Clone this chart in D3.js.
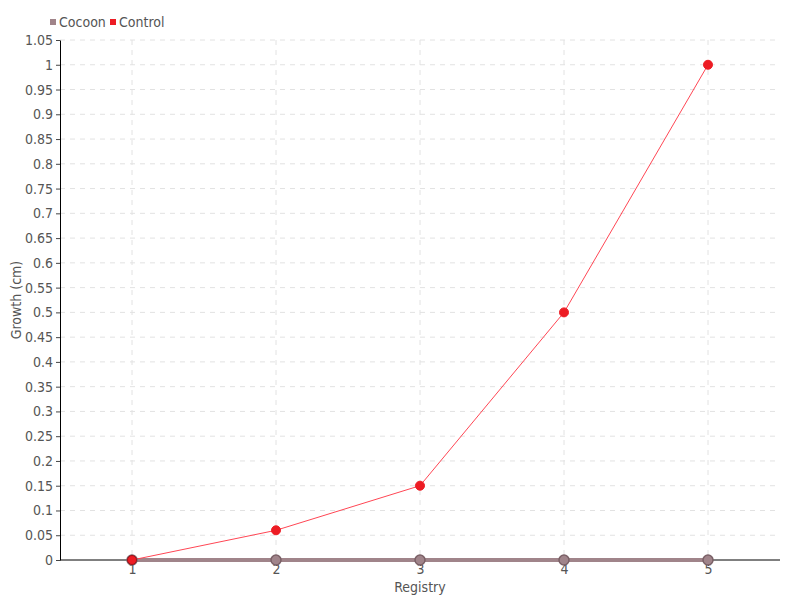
<!doctype html>
<html>
	<head>
		<meta charset="UTF-8">
		<title>Growth</title>
		<script src="https://d3js.org/d3.v7.min.js"></script>
		<style>
			body { margin: 0; background: #ffffff; }
			text { font-family: "Liberation Sans Narrow", "DejaVu Sans Condensed", "DejaVu Sans", sans-serif; }
		</style>
	</head>
	<body>
		<script>

// -------------------------------------- data

		var registry = [1, 2, 3, 4, 5];
		var cocoon = [0, 0, 0, 0, 0];
		var control = [0, 0.06, 0.15, 0.5, 1];
		var yTicks = d3.range(0, 22).map(i => +(i * 0.05).toFixed(2));

// -------------------------------------- colors

		var cocoon_col = "#a0848a";
		var cocoon_dark = "#7a6066";
		var control_col = "#ed1c24";
		var control_line = "#ff4654";
		var grid_col = "#e2e2e2";
		var text_col = "#555555";

// -------------------------------------- svg

		var width = 800, height = 600;
		var margin = { top: 40, right: 20, bottom: 40, left: 60 };

		var svg = d3.select("body").append("svg")
			.attr("width", width)
			.attr("height", height);

		var x = d3.scalePoint()
			.domain(registry)
			.range([margin.left, width - margin.right])
			.padding(0.5);

		var y = d3.scaleLinear()
			.domain([0, 1.05])
			.range([height - margin.bottom, margin.top]);

		// grid
		svg.append("g").selectAll("line.hgrid")
			.data(yTicks.slice(1))
			.enter().append("line")
			.attr("x1", margin.left).attr("x2", width - margin.right)
			.attr("y1", d => y(d)).attr("y2", d => y(d))
			.style("stroke", grid_col)
			.style("stroke-dasharray", "5,5");

		svg.append("g").selectAll("line.vgrid")
			.data(registry)
			.enter().append("line")
			.attr("x1", d => x(d)).attr("x2", d => x(d))
			.attr("y1", margin.top).attr("y2", height - margin.bottom)
			.style("stroke", grid_col)
			.style("stroke-dasharray", "5,5");

		// axes
		var yAxis = svg.append("g")
			.attr("transform", "translate(" + margin.left + ",0)")
			.call(d3.axisLeft(y).tickValues(yTicks).tickFormat(d => String(d)).tickSize(4).tickSizeOuter(0));

		var xAxis = svg.append("g")
			.attr("transform", "translate(0," + (height - margin.bottom) + ")")
			.call(d3.axisBottom(x).tickSize(6).tickSizeOuter(0));

		xAxis.select(".domain").attr("d", "M" + margin.left + ",0H" + (width - margin.right)).style("stroke", "#000");
		yAxis.select(".domain").style("stroke", "#000");

		[xAxis, yAxis].forEach(function(a) {
			a.selectAll(".tick line").style("stroke", "#444");
			a.selectAll(".tick text")
				.style("fill", text_col)
				.style("font-size", "14px")
				.style("font-family", null);
		});
		xAxis.selectAll(".tick text").attr("y", 4).attr("dy", "0.71em");

		// axis titles
		svg.append("text")
			.text("Registry")
			.attr("x", (margin.left + width - margin.right) / 2)
			.attr("y", 592)
			.attr("text-anchor", "middle")
			.style("fill", text_col)
			.style("font-size", "14px");

		svg.append("text")
			.text("Growth (cm)")
			.attr("transform", "translate(21," + 300 + ") rotate(-90)")
			.attr("text-anchor", "middle")
			.style("fill", text_col)
			.style("font-size", "14px");

// -------------------------------------- lines

		var line = d3.line()
			.x((d, i) => x(registry[i]))
			.y(d => y(d));

		svg.append("path")
			.datum(cocoon)
			.attr("d", line)
			.style("fill", "none")
			.style("stroke", cocoon_col)
			.style("stroke-width", 4);

		svg.append("path")
			.datum(control)
			.attr("d", line)
			.style("fill", "none")
			.style("stroke", control_line)
			.style("stroke-width", 1);

		svg.selectAll("circle.cocoon")
			.data(cocoon)
			.enter().append("circle")
			.attr("class", "cocoon")
			.attr("cx", (d, i) => x(registry[i]))
			.attr("cy", d => y(d))
			.attr("r", 5)
			.style("fill", cocoon_col)
			.style("stroke", cocoon_dark)
			.style("stroke-width", 1.5);

		svg.selectAll("circle.control")
			.data(control)
			.enter().append("circle")
			.attr("class", "control")
			.attr("cx", (d, i) => x(registry[i]))
			.attr("cy", d => y(d))
			.attr("r", 4.5)
			.style("fill", control_col)
			.style("stroke", d => d === 0 ? "#a01018" : control_col)
			.style("stroke-width", 1);

// -------------------------------------- legend

		var legend = [
			{ name: "Cocoon", col: cocoon_col, x: 50 },
			{ name: "Control", col: control_col, x: 110 }
		];

		var lg = svg.selectAll("g.legend")
			.data(legend)
			.enter().append("g")
			.attr("transform", d => "translate(" + d.x + ",22)");

		lg.append("rect")
			.attr("x", 0).attr("y", -3)
			.attr("width", 6).attr("height", 6)
			.style("fill", d => d.col);

		lg.append("text")
			.text(d => d.name)
			.attr("x", 9)
			.attr("y", 5)
			.style("fill", text_col)
			.style("font-size", "14px");

		</script>
	</body>
</html>
